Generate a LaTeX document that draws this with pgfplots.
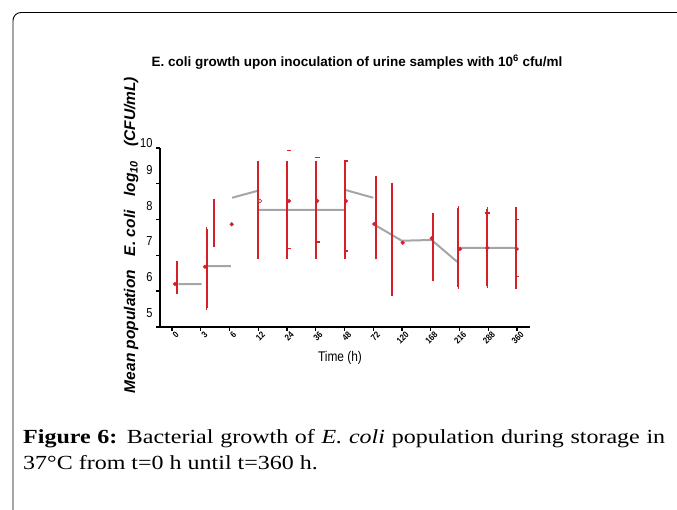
\documentclass[border=0pt]{standalone}
\usepackage{pgfplots}
\pgfplotsset{compat=1.18}
\usepackage{fontspec}
\setmainfont{Liberation Serif}
\newfontfamily\capfont[FakeStretch=1.2]{Liberation Serif}
\newfontfamily\chartfont[FakeStretch=0.85]{Liberation Sans}
\newfontfamily\labelfont{Liberation Sans}
\definecolor{barred}{RGB}{214,32,40}
\definecolor{lgray}{RGB}{165,165,165}

\pgfplotstableread{
x y
0.22 6.20
1.03 6.20
nan nan
1.15 6.70
2.05 6.70
nan nan
2.09 8.61
2.96 8.80
nan nan
3.03 8.27
6.02 8.27
nan nan
6.02 8.83
7.00 8.61
nan nan
7.06 7.85
7.99 7.41
9.03 7.43
9.92 6.82
nan nan
9.96 7.21
11.93 7.21
}\grayline

\pgfplotstableread{
x y e
0.174 6.383 0.405
1.207 6.634 1.103
1.471 7.906 0.615
7.096 8.051 1.104
7.662 7.444 1.522
9.068 7.244 0.884
9.958 7.221 1.095
10.967 7.221 1.067
11.955 7.207 1.081
}\cappedbars

\pgfplotstableread{
x y e
3.002 8.268 1.377
4.010 8.268 1.377
5.009 8.268 1.377
6.017 8.268 1.377
}\plainbars

\pgfplotstableread{
x y
0.104 6.201
1.148 6.684
2.077 7.869
4.070 8.520
5.054 8.520
6.052 8.520
7.037 7.877
8.024 7.355
9.033 7.478
10.017 7.179
10.967 7.207
11.990 7.179
}\dots

\pgfplotstableread{
x y
3.061 8.520
}\opendot

\pgfplotstableread{
x y
4.070 9.925
4.070 7.198
5.054 9.740
5.054 7.366
6.052 9.645
6.052 7.123
10.967 8.176
11.990 8.008
11.990 6.405
}\extracaps

\begin{document}
\begin{tikzpicture}[x=1pt,y=1pt]
\path[use as bounding box] (0,0) rectangle (677,510);
\draw[line width=0.9pt, rounded corners=8pt] (13,0) -- (13,497.5) -- (677,497.5);

\begin{axis}[
  at={(160pt,183pt)}, anchor=south west,
  scale only axis, width=370pt, height=179pt,
  xmin=-0.417, xmax=12.452, ymin=5, ymax=10,
  axis lines*=left,
  axis line style={line width=1.8pt, black},
  unbounded coords=jump,
  clip=false,
  xtick={0,...,12},
  xticklabels={0,3,6,12,24,36,48,72,120,168,216,288,360},
  xticklabel style={rotate=45, anchor=north east, font=\chartfont\bfseries\fontsize{9}{10}\selectfont, xshift=3pt, yshift=-1pt, inner sep=0.5pt},
  ytick={5,6,7,8,9},
  yticklabels={5,6,7,8,9},
  yticklabel style={yshift=14pt, font=\chartfont\fontsize{13}{14}\selectfont},
  extra y ticks={10},
  extra y tick labels={10},
  extra y tick style={yticklabel style={yshift=-9pt}},
  tick style={black, line width=1.4pt},
  tick align=outside,
  major tick length=4pt,
  /pgf/number format/assume math mode=true,
]
\addplot[lgray, line width=2pt, no marks] table[x=x,y=y] {\grayline};
\addplot[draw=none, mark=none,
  error bars/.cd, y dir=both, y explicit,
  error bar style={draw=barred, line width=2pt},
  error mark options={draw=barred, line width=1.6pt, mark size=2.2pt}]
  table[x=x, y=y, y error=e] {\cappedbars};
\addplot[draw=none, mark=none,
  error bars/.cd, y dir=both, y explicit, error mark=none,
  error bar style={draw=barred, line width=2pt}]
  table[x=x, y=y, y error=e] {\plainbars};
\addplot[only marks, mark=-, mark size=2.2pt, barred, line width=1.6pt] table[x=x,y=y] {\extracaps};
\addplot[only marks, mark=*, mark size=1.9pt, barred] table[x=x,y=y] {\dots};
\addplot[only marks, mark=o, mark size=1.9pt, barred!60!gray, fill=white, line width=0.8pt] table[x=x,y=y] {\opendot};
\end{axis}

\node[font=\labelfont\bfseries\fontsize{13.5}{15}\selectfont] at (357,448) {E. coli growth upon inoculation of urine samples with 10\textsuperscript{6} cfu/ml};
\node[font=\chartfont\fontsize{14}{16}\selectfont] at (340,152) {Time (h)};
\node[rotate=90, font=\labelfont\bfseries\itshape\fontsize{15.5}{18}\selectfont] at (131,275) {Mean population\hspace{0.9em}E. coli\hspace{0.9em}log\textsubscript{10}\hspace{0.9em}(CFU/mL)};

\node[anchor=base west, inner sep=0pt] at (23,66.5) {\capfont\fontsize{20}{24}\selectfont\makebox[642pt][s]{\textbf{Figure 6:} Bacterial growth of \textit{E. coli} population during storage in}};
\node[anchor=base west, inner sep=0pt] at (23,40) {\capfont\fontsize{20}{24}\selectfont 37°C from t=0 h until t=360 h.};
\end{tikzpicture}
\end{document}
